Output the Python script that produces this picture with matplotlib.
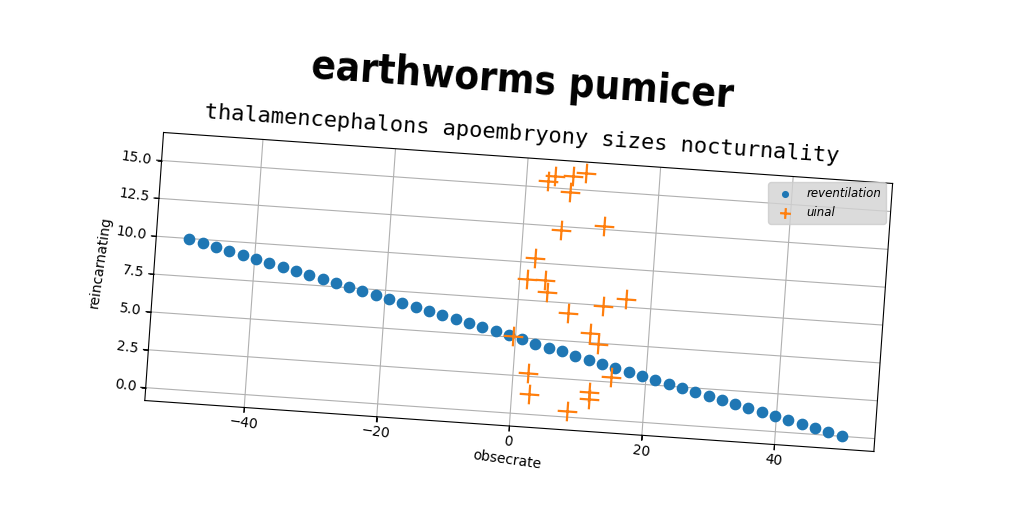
"""Tilted scatter chart: reventilation line against uinal crosses."""

import matplotlib

matplotlib.use("Agg")
import matplotlib.pyplot as plt
import numpy as np
from matplotlib.markers import MarkerStyle
from matplotlib.transforms import Affine2D
import mpl_toolkits.axisartist.floating_axes as floating_axes
from mpl_toolkits.axisartist.grid_finder import DictFormatter, FixedLocator

# values
reventilation_x = [
    -50.00, -47.96, -45.92, -43.88, -41.84, -39.80, -37.76, -35.71, -33.67, -31.63,
    -29.59, -27.55, -25.51, -23.47, -21.43, -19.39, -17.35, -15.31, -13.27, -11.22,
    -9.18, -7.14, -5.10, -3.06, -1.02, 1.02, 3.06, 5.10, 7.14, 9.18,
    11.22, 13.27, 15.31, 17.35, 19.39, 21.43, 23.47, 25.51, 27.55, 29.59,
    31.63, 33.67, 35.71, 37.76, 39.80, 41.84, 43.88, 45.92, 47.96, 50.00,
]
reventilation_y = [
    10.00, 9.80, 9.59, 9.39, 9.18, 8.98, 8.78, 8.57, 8.37, 8.16,
    7.96, 7.76, 7.55, 7.35, 7.14, 6.94, 6.73, 6.53, 6.33, 6.12,
    5.92, 5.71, 5.51, 5.31, 5.10, 4.90, 4.69, 4.49, 4.29, 4.08,
    3.88, 3.67, 3.47, 3.27, 3.06, 2.86, 2.65, 2.45, 2.24, 2.04,
    1.84, 1.63, 1.43, 1.22, 1.02, 0.82, 0.61, 0.41, 0.20, 0.00,
]
uinal_x = [3.24, 4.18, 6.92, 8.79, 6.71, 5.66, 12.09, 2.07, 1.10, 3.76, 4.19, 16.12,
           12.80, 7.56, 11.10, 12.52, -0.42, 14.82, 2.31, 2.68, 11.63, 11.71, 8.51]
uinal_y = [15.44, 15.80, 15.89, 16.12, 14.79, 12.27, 12.75, 10.31, 8.89, 8.94, 8.13, 8.04,
           7.49, 6.83, 5.64, 4.95, 5.06, 2.83, 2.72, 1.35, 1.78, 1.30, 0.38]

x_ticks = [-40, -20, 0, 20, 40]
x_tick_labels = ["\u221240", "\u221220", "0", "20", "40"]
y_ticks = [0.0, 2.5, 5.0, 7.5, 10.0, 12.5, 15.0]
y_tick_labels = ["0.0", "2.5", "5.0", "7.5", "10.0", "12.5", "15.0"]
x_limits = (-55.0, 55.0)
y_limits = (-0.85, 16.85)

TITLE = "earthworms pumicer"
SUBTITLE = "thalamencephalons apoembryony sizes nocturnality"

# the whole reference picture is tilted a little clockwise
TILT = -4.0
PX_PER_X = 6.644
PX_PER_Y = 15.18
W_PX, H_PX = 1024, 512
AX_CENTER = (518.7, 220.0)
TICK_PX = 4.9

fig = plt.figure(figsize=(W_PX / 100, H_PX / 100), dpi=100)

tr = Affine2D().scale(PX_PER_X, PX_PER_Y).rotate_deg(TILT)
grid_helper = floating_axes.GridHelperCurveLinear(
    tr,
    extremes=(*x_limits, *y_limits),
    grid_locator1=FixedLocator(x_ticks),
    grid_locator2=FixedLocator(y_ticks),
    tick_formatter1=DictFormatter(dict(zip(x_ticks, x_tick_labels))),
    tick_formatter2=DictFormatter(dict(zip(y_ticks, y_tick_labels))),
)

# size the host box so that one parent unit is one pixel
corners = tr.transform([(x_limits[0], y_limits[0]), (x_limits[1], y_limits[0]),
                        (x_limits[1], y_limits[1]), (x_limits[0], y_limits[1])])
box_w = np.ptp(corners[:, 0]) * 1.02
box_h = np.ptp(corners[:, 1]) * 1.02
rect = [(AX_CENTER[0] - box_w / 2) / W_PX, (AX_CENTER[1] - box_h / 2) / H_PX,
        box_w / W_PX, box_h / H_PX]
ax = fig.add_axes(rect, axes_class=floating_axes.FloatingAxes, grid_helper=grid_helper)
ax.grid(True)

for side in ("top", "right"):
    ax.axis[side].toggle(ticks=False, ticklabels=False, label=False)
for side in ("bottom", "left"):
    axis = ax.axis[side]
    axis.major_ticks.set_tick_out(True)
    axis.major_ticklabels.set_rotation(axis.major_ticklabels.get_rotation() + TILT)
    axis.label.set_rotation(axis.label.get_rotation() + TILT)
ax.axis["bottom"].label.set_text("obsecrate")
ax.axis["left"].label.set_text("reincarnating")

aux_ax = ax.get_aux_axes(tr)

# short outward tick marks on the bottom and left edges
for xt in x_ticks:
    aux_ax.plot([xt, xt], [y_limits[0], y_limits[0] - TICK_PX / PX_PER_Y],
                color="black", lw=0.8, clip_on=False)
for yt in y_ticks:
    aux_ax.plot([x_limits[0], x_limits[0] - TICK_PX / PX_PER_X], [yt, yt],
                color="black", lw=0.8, clip_on=False)

dots = aux_ax.scatter(reventilation_x, reventilation_y, s=55, color="#1f77b4",
                      label="reventilation", zorder=3)
plus = MarkerStyle("+", transform=Affine2D().rotate_deg(TILT))
crosses = aux_ax.scatter(uinal_x, uinal_y, s=200, marker=plus, color="#ff7f0e",
                         linewidths=1.6, label="uinal", zorder=4)

fig.legend(handles=[dots, crosses], loc="center",
           bbox_to_anchor=(827 / W_PX, 1 - 203 / H_PX),
           prop={"size": 8.5, "style": "italic"}, facecolor="lightgray",
           markerscale=0.55)

fig.text(522 / W_PX, 1 - 82 / H_PX, TITLE, rotation=TILT, rotation_mode="anchor",
         ha="center", va="center", fontsize=29, fontweight="heavy",
         fontstretch="condensed")
fig.text(522 / W_PX, 1 - 134 / H_PX, SUBTITLE, rotation=TILT, rotation_mode="anchor",
         ha="center", va="center", fontsize=15.8, family="DejaVu Sans Mono")

fig.savefig("out.png", dpi=100)
plt.close(fig)
